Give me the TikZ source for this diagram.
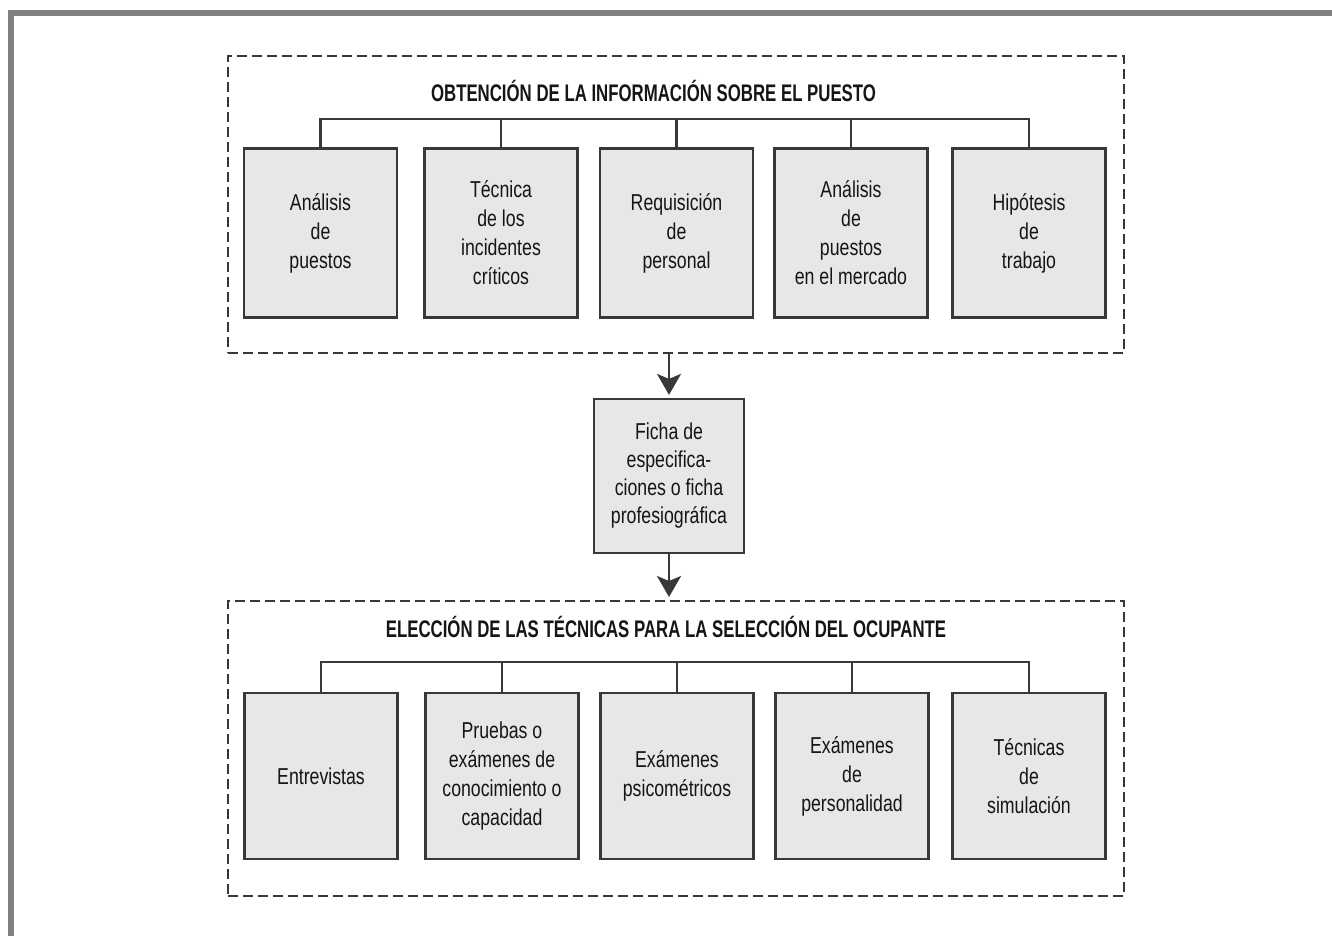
\documentclass[tikz,border=0pt]{standalone}
\usepackage{fontspec}
\setmainfont{Liberation Sans}
\newfontfamily\boxfont[FakeStretch=0.77]{Liberation Sans}
\newfontfamily\headfont[FakeStretch=0.70]{Liberation Sans}
\usetikzlibrary{arrows.meta}

\definecolor{linec}{HTML}{383838}
\definecolor{cardfill}{HTML}{E7E7E7}
\definecolor{inkc}{HTML}{151515}
\definecolor{framec}{HTML}{808080}

\tikzset{
  card/.style={draw=linec, line width=2.2pt, fill=cardfill, minimum width=153pt,
    minimum height=169pt, inner sep=0pt, align=center, text=inkc,
    font=\boxfont\fontsize{23}{29}\selectfont},
  lowcard/.style={card, minimum height=166pt},
  midcard/.style={card, minimum width=150pt, minimum height=154pt,
    font=\boxfont\fontsize{23}{28}\selectfont},
  group/.style={draw=linec, dash pattern=on 10pt off 5pt, line width=2pt,
    inner sep=0pt, minimum width=896pt},
  bus/.style={draw=linec, line width=2.2pt},
  flow/.style={bus, shorten >=3pt,
    -{Stealth[length=21pt, width=24pt, inset=5pt]}},
  head/.style={font=\headfont\bfseries\fontsize{24}{29}\selectfont, text=inkc,
    anchor=base, inner sep=0pt}
}

\begin{document}
\begin{tikzpicture}[x=1pt, y=-1pt]
  \useasboundingbox[fill=white] (0,0) rectangle (1332,936);

  % outer frame (left and top edges)
  \draw[framec, line width=6pt] (11,936) -- (11,13.5) -- (1332,13.5);

  % dashed groups
  \node[group, minimum height=297pt] (topgrp) at (676,204.5) {};
  \node[group, minimum height=295pt] (botgrp) at (676,748.5) {};

  \node[head] (toptitle) at (653.5,102) {OBTENCIÓN DE LA INFORMACIÓN SOBRE EL PUESTO};
  \node[head] (bottitle) at (666,637) {ELECCIÓN DE LAS TÉCNICAS PARA LA SELECCIÓN DEL OCUPANTE};

  % first row of cards
  \node[card] (t1) at (320.5,233) {Análisis\\de\\puestos};
  \node[card] (t2) at (501,233) {Técnica\\de los\\incidentes\\críticos};
  \node[card] (t3) at (676.5,233) {Requisición\\de\\personal};
  \node[card] (t4) at (851,233) {Análisis\\de\\puestos\\en el mercado};
  \node[card] (t5) at (1029,233) {Hipótesis\\de\\trabajo};

  % middle card
  \node[midcard] (mid) at (669,476) {Ficha de\\especifica-\\ciones o ficha\\profesiográfica};

  % second row of cards
  \node[lowcard] (b1) at (321,776) {Entrevistas};
  \node[lowcard] (b2) at (502,776) {Pruebas o\\exámenes de\\conocimiento o\\capacidad};
  \node[lowcard] (b3) at (677,776) {Exámenes\\psicométricos};
  \node[lowcard] (b4) at (852,776) {Exámenes\\de\\personalidad};
  \node[lowcard] (b5) at (1029,776) {Técnicas\\de\\simulación};

  % distribution buses
  \coordinate (tbus) at (0,119);
  \coordinate (bbus) at (0,662);
  \draw[bus] (t1.north) |- (t5.north |- tbus) -- (t5.north);
  \foreach \n in {t2,t3,t4} \draw[bus] (\n.north) -- (\n.north |- tbus);
  \draw[bus] (b1.north) |- (b5.north |- bbus) -- (b5.north);
  \foreach \n in {b2,b3,b4} \draw[bus] (\n.north) -- (\n.north |- bbus);

  % flow arrows
  \draw[flow] (topgrp.south -| mid.north) -- (mid.north);
  \draw[flow] (mid.south) -- (mid.south |- botgrp.north);
\end{tikzpicture}
\end{document}
